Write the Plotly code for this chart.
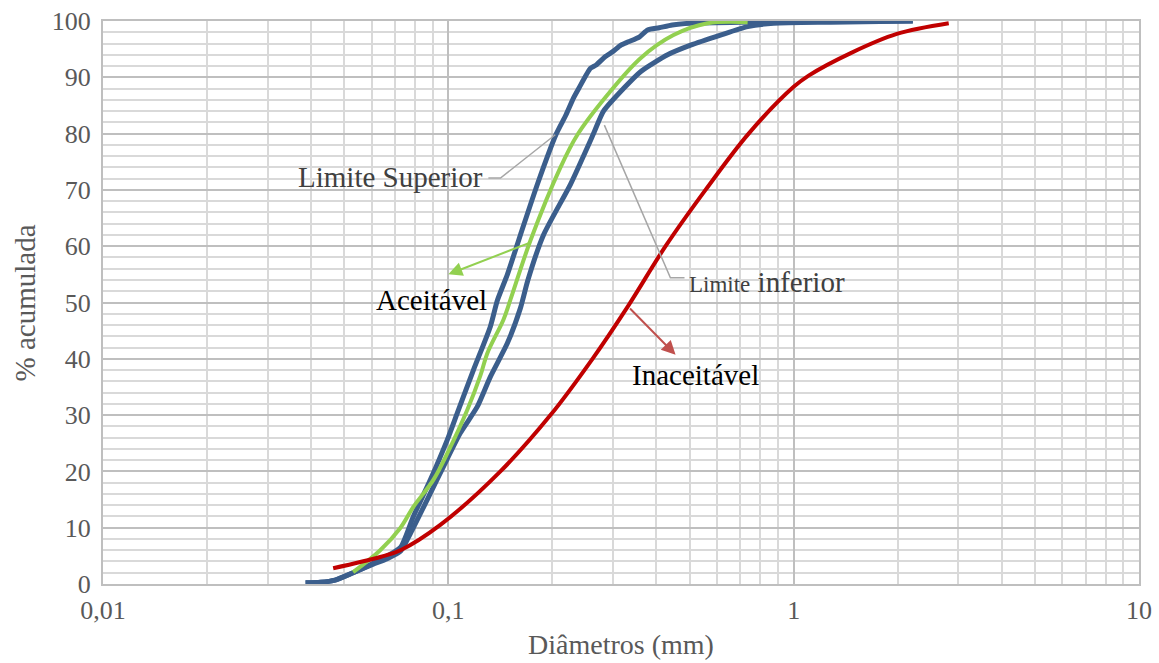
import plotly.graph_objects as go
import math

# ---- data (diameter in mm, cumulative %) ----
sup_x = [0.0386, 0.0426, 0.047, 0.0530, 0.0606, 0.0665, 0.0727, 0.0792, 0.0887, 0.0993, 0.1062,
         0.1182, 0.1323, 0.1387, 0.1483, 0.1617, 0.1811, 0.2056, 0.2190, 0.2303, 0.2390, 0.2580,
         0.2680, 0.2850, 0.3000, 0.3160, 0.3320, 0.3580, 0.3775, 0.4080, 0.4450, 0.5029, 0.7016,
         1.28, 2.213]
sup_y = [0.2, 0.3, 0.7, 2.0, 3.7, 5.0, 6.5, 12.0, 18.5, 25.6, 30.4,
         38.0, 45.7, 50.4, 55.0, 62.0, 71.0, 80.0, 83.3, 86.3, 88.1, 91.6,
         92.2, 93.7, 94.6, 95.7, 96.3, 97.2, 98.4, 98.8, 99.3, 99.6, 99.8,
         99.9, 100.0]

inf_x = [0.0386, 0.0426, 0.047, 0.0530, 0.0606, 0.0665, 0.0727, 0.0777, 0.0869, 0.0967, 0.1083,
         0.1213, 0.1323, 0.1483, 0.1617, 0.170, 0.1886, 0.2258, 0.2633, 0.2814, 0.3215, 0.3603,
         0.4315, 0.5029, 0.614, 0.7358, 0.875, 1.28, 2.213]
inf_y = [0.2, 0.3, 0.7, 2.0, 3.5, 4.5, 5.8, 9.0, 15.0, 20.8, 26.8,
         31.5, 36.8, 42.8, 49.0, 54.0, 62.0, 71.0, 80.0, 84.0, 88.0, 91.0,
         94.0, 95.7, 97.5, 99.0, 99.6, 99.8, 100.0]

ace_x = [0.0530, 0.0635, 0.0727, 0.0792, 0.0905, 0.0993, 0.1136, 0.1238, 0.1297, 0.1445, 0.1513,
         0.1729, 0.2112, 0.2365, 0.2891, 0.3603, 0.4488, 0.5632, 0.7358]
ace_y = [2.1, 6.0, 10.0, 13.7, 18.5, 23.2, 31.0, 37.0, 41.0, 47.0, 50.5,
         61.0, 74.0, 79.8, 86.9, 93.4, 97.5, 99.6, 99.8]

ina_x = [0.0464, 0.0635, 0.0727, 0.0948, 0.1415, 0.1976, 0.2615, 0.3325, 0.4256, 0.5556,
         0.7407, 1.0, 1.105, 1.463, 1.989, 2.812]
ina_y = [2.8, 4.8, 6.0, 10.5, 20.0, 30.0, 40.0, 49.5, 60.0, 70.0,
         80.0, 88.3, 90.3, 94.3, 97.7, 99.6]

x_ticks = [0.01, 0.1, 1, 10]
x_ticktext = ["0,01", "0,1", "1", "10"]
x_minor = [m * 10 ** e for e in (-2, -1, 0) for m in range(2, 10)]

FONT = "Liberation Serif, Times New Roman, serif"
BLUE = "#3B5E8C"
GREEN = "#92D050"
RED = "#C00000"

fig = go.Figure()
fig.add_trace(go.Scatter(x=sup_x, y=sup_y, mode="lines",
                         line=dict(color=BLUE, width=5, shape="spline", smoothing=0.6),
                         name="Limite Superior", hoverinfo="skip"))
fig.add_trace(go.Scatter(x=inf_x, y=inf_y, mode="lines",
                         line=dict(color=BLUE, width=5, shape="spline", smoothing=0.6),
                         name="Limite inferior", hoverinfo="skip"))
fig.add_trace(go.Scatter(x=ace_x, y=ace_y, mode="lines", line=dict(color=GREEN, width=4, shape="spline"),
                         name="Aceitável", hoverinfo="skip"))
fig.add_trace(go.Scatter(x=ina_x, y=ina_y, mode="lines", line=dict(color=RED, width=4, shape="spline"),
                         name="Inaceitável", hoverinfo="skip"))

# leader lines for the labels
fig.add_trace(go.Scatter(x=[0.1306, 0.1416, 0.204], y=[72.1, 72.1, 79.8], mode="lines",
                         line=dict(color="#A6A6A6", width=1.5), hoverinfo="skip"))
fig.add_trace(go.Scatter(x=[0.283, 0.4396, 0.483], y=[81.5, 54.4, 54.4], mode="lines",
                         line=dict(color="#A6A6A6", width=1.5), hoverinfo="skip"))

L = math.log10
ann = []
ann.append(dict(x=L(0.128), y=72.3, xref="x", yref="y", text="Limite Superior", showarrow=False,
                xanchor="right", yanchor="middle", font=dict(family=FONT, size=29, color="#404040")))
ann.append(dict(x=L(0.49), y=53.6, xref="x", yref="y",
                text="<span style='font-size:23px'>Limite</span> inferior", showarrow=False,
                xanchor="left", yanchor="middle", font=dict(family=FONT, size=29, color="#404040")))
ann.append(dict(x=L(0.0895), y=50.5, xref="x", yref="y", text="Aceitável", showarrow=False,
                xanchor="center", yanchor="middle", font=dict(family=FONT, size=29, color="#000000")))
ann.append(dict(x=L(0.52), y=37.2, xref="x", yref="y", text="Inaceitável", showarrow=False,
                xanchor="center", yanchor="middle", font=dict(family=FONT, size=29, color="#000000")))
# arrows
ann.append(dict(x=L(0.1), y=55.0, ax=L(0.1735), ay=60.7, xref="x", yref="y", axref="x", ayref="y",
                text="", showarrow=True, arrowhead=2, arrowsize=1.4, arrowwidth=2, arrowcolor=GREEN))
ann.append(dict(x=L(0.455), y=40.7, ax=L(0.3325), ay=49.2, xref="x", yref="y", axref="x", ayref="y",
                text="", showarrow=True, arrowhead=2, arrowsize=1.4, arrowwidth=2, arrowcolor="#C0504D"))
# axis titles
ann.append(dict(x=0.5, y=-0.107, xref="paper", yref="paper", text="Diâmetros (mm)", showarrow=False,
                xanchor="center", yanchor="middle", font=dict(family=FONT, size=28, color="#595959")))
ann.append(dict(x=-0.0753, y=0.5, xref="paper", yref="paper", text="% acumulada", showarrow=False,
                textangle=-90, xanchor="center", yanchor="middle",
                font=dict(family=FONT, size=29, color="#595959")))

fig.update_layout(
    width=1159, height=663,
    margin=dict(l=103, r=20, t=21, b=79, autoexpand=False),
    paper_bgcolor="white", plot_bgcolor="white",
    showlegend=False,
    annotations=ann,
    font=dict(family=FONT, color="#595959"),
)
fig.update_xaxes(
    type="log", range=[-2, 1], automargin=False,
    tickvals=x_ticks, ticktext=x_ticktext,
    tickfont=dict(family=FONT, size=26, color="#595959"),
    showgrid=True, gridcolor="#BFBFBF", gridwidth=2,
    minor=dict(tickvals=x_minor, showgrid=True, gridcolor="#D9D9D9", gridwidth=2, ticks=""),
    showline=True, linecolor="#BFBFBF", linewidth=2, mirror=True,
    ticks="", ticklabelstandoff=2,
    zeroline=False,
)
fig.update_yaxes(
    range=[0, 100], dtick=10, tick0=0, automargin=False,
    tickfont=dict(family=FONT, size=26, color="#595959"),
    showgrid=True, gridcolor="#BFBFBF", gridwidth=2,
    minor=dict(dtick=2, showgrid=True, gridcolor="#D9D9D9", gridwidth=2, ticks=""),
    showline=True, linecolor="#BFBFBF", linewidth=2, mirror=True,
    ticks="", ticklabelstandoff=5,
    zeroline=False,
)

fig.write_html("out.html", config={"displayModeBar": False},
               post_script="document.body.style.margin='0';document.body.style.padding='0';")
